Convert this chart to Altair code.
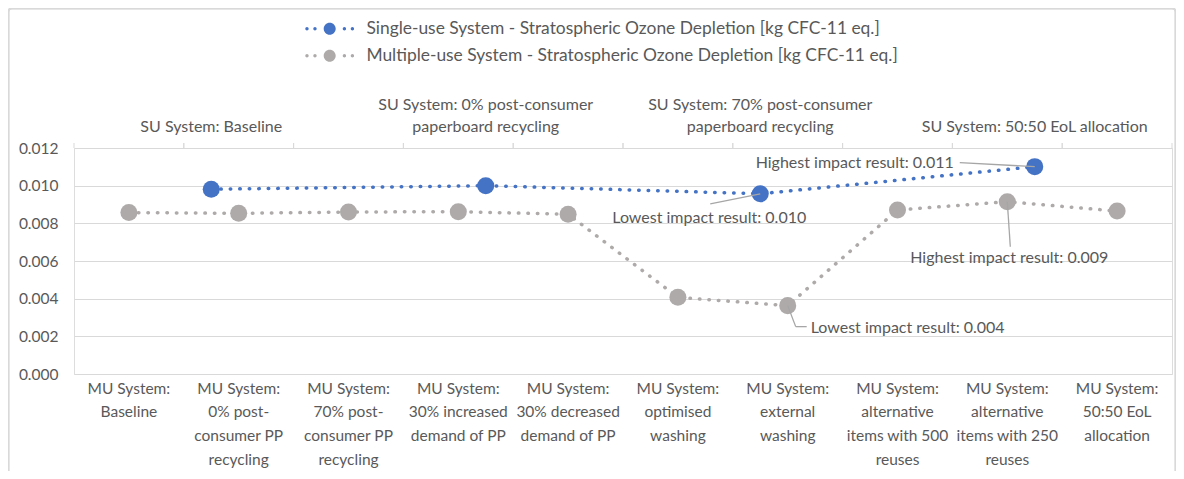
import altair as alt
import pandas as pd

# ---------------- data ----------------
su_series = "Single-use System - Stratospheric Ozone Depletion [kg CFC-11 eq.]"
mu_series = "Multiple-use System - Stratospheric Ozone Depletion [kg CFC-11 eq.]"

su_categories = [
    "SU System: Baseline",
    "SU System: 0% post-consumer\npaperboard recycling",
    "SU System: 70% post-consumer\npaperboard recycling",
    "SU System: 50:50 EoL allocation",
]
su_values = [0.00981, 0.01000, 0.00957, 0.01101]

mu_categories = [
    "MU System:\nBaseline",
    "MU System:\n0% post-\nconsumer PP\nrecycling",
    "MU System:\n70% post-\nconsumer PP\nrecycling",
    "MU System:\n30% increased\ndemand of PP",
    "MU System:\n30% decreased\ndemand of PP",
    "MU System:\noptimised\nwashing",
    "MU System:\nexternal\nwashing",
    "MU System:\nalternative\nitems with 500\nreuses",
    "MU System:\nalternative\nitems with 250\nreuses",
    "MU System:\n50:50 EoL\nallocation",
]
mu_values = [0.00857, 0.00853, 0.00860, 0.00862, 0.00848,
             0.00407, 0.00363, 0.00871, 0.00915, 0.00865]

y_ticks = [0.000, 0.002, 0.004, 0.006, 0.008, 0.010, 0.012]

# ---------------- styles ----------------
FONT = "Lato"
TXT = "#595959"
GRID = "#D9D9D9"
BLUE = "#4472C4"
GRAY = "#AEAAAA"
LEAD = "#A6A6A6"
W, H = 1098, 226

su_df = pd.DataFrame({"su_cat": su_categories, "value": su_values, "series": su_series})
mu_df = pd.DataFrame({"mu_cat": mu_categories, "value": mu_values, "series": mu_series})

su_hi = su_df.loc[[su_df["value"].idxmax()]].copy()
su_hi["note"] = su_hi["value"].map(lambda v: f"Highest impact result: {v:.3f}")
su_lo = su_df.loc[[su_df["value"].idxmin()]].copy()
su_lo["note"] = su_lo["value"].map(lambda v: f"Lowest impact result: {v:.3f}")
mu_hi = mu_df.loc[[mu_df["value"].idxmax()]].copy()
mu_hi["note"] = mu_hi["value"].map(lambda v: f"Highest impact result: {v:.3f}")
mu_lo = mu_df.loc[[mu_df["value"].idxmin()]].copy()
mu_lo["note"] = mu_lo["value"].map(lambda v: f"Lowest impact result: {v:.3f}")

# ---------------- scales / axes ----------------
y_scale = alt.Scale(domain=[0, 0.012], nice=False)
y_axis = alt.Axis(values=y_ticks, format=".3f", title=None, domain=False, ticks=False,
                  grid=True, gridColor=GRID, gridWidth=1, labelPadding=16,
                  labelFont=FONT, labelFontSize=15.5, labelColor=TXT)
Y = alt.Y("value:Q", scale=y_scale, axis=y_axis)
Y2 = alt.Y2("value")

su_scale = alt.Scale(type="band", domain=su_categories, paddingInner=0, paddingOuter=0)
su_axis = alt.Axis(orient="top", title=None, domain=False, ticks=False, labelAngle=0,
                   labelExpr=("length(split(datum.label, '\\n')) == 1 ? ['', datum.label]"
                              " : split(datum.label, '\\n')"),
                   labelLineHeight=22, labelBaseline="bottom", labelPadding=36,
                   labelOverlap=False, labelLimit=0, labelFont=FONT, labelFontSize=16,
                   labelColor=TXT)
mu_scale = alt.Scale(type="band", domain=mu_categories, paddingInner=0, paddingOuter=0)
mu_axis = alt.Axis(orient="bottom", title=None, domain=False, ticks=False, labelAngle=0,
                   labelExpr="split(datum.label, '\\n')", labelLineHeight=23.7,
                   labelBaseline="top", labelPadding=7, labelOverlap=False,
                   labelLimit=0, labelFont=FONT, labelFontSize=15.5, labelColor=TXT)

SX = alt.X("su_cat:N", scale=su_scale, axis=su_axis, sort=None, bandPosition=0.5)
SX2 = alt.X2("su_cat", bandPosition=0.5)
MX = alt.X("mu_cat:N", scale=mu_scale, axis=mu_axis, sort=None, bandPosition=0.5)
MX2 = alt.X2("mu_cat", bandPosition=0.5)

legend_path = (
    "M -6.1,0 A 0.42,0.42 0 1,0 -5.26,0 A 0.42,0.42 0 1,0 -6.1,0 Z "
    "M -4.1,0 A 0.42,0.42 0 1,0 -3.26,0 A 0.42,0.42 0 1,0 -4.1,0 Z "
    "M -1.5,0 A 1.5,1.5 0 1,0 1.5,0 A 1.5,1.5 0 1,0 -1.5,0 Z "
    "M 3.26,0 A 0.42,0.42 0 1,0 4.1,0 A 0.42,0.42 0 1,0 3.26,0 Z "
    "M 5.26,0 A 0.42,0.42 0 1,0 6.1,0 A 0.42,0.42 0 1,0 5.26,0 Z"
)
color = alt.Color(
    "series:N",
    scale=alt.Scale(domain=[su_series, mu_series], range=[BLUE, GRAY]),
    legend=alt.Legend(title=None, orient="none", legendX=247, legendY=-128,
                      direction="vertical", symbolType=legend_path, symbolSize=64,
                      symbolStrokeWidth=0, symbolOpacity=1, labelOffset=28,
                      rowPadding=8, labelLimit=0, labelFont=FONT,
                      labelFontSize=17.4, labelColor=TXT),
)

TXT_KW = dict(font=FONT, fontSize=16, color=TXT)

# ---------------- SU layers ----------------
su_line = alt.Chart(su_df).mark_line(
    color=BLUE, strokeWidth=3.5, strokeDash=[0.5, 9], strokeCap="round"
).encode(x=SX, y=Y)
su_pts = alt.Chart(su_df).mark_point(filled=True, size=290, opacity=1, strokeWidth=0).encode(
    x=SX, y=Y, color=color)
su_hi_txt = alt.Chart(su_hi).mark_text(align="right", baseline="middle", dx=-81, dy=-4, **TXT_KW).encode(
    x=SX, y=Y, text="note:N")
su_hi_rule = alt.Chart(su_hi).mark_rule(color=LEAD, strokeWidth=1.3, x2Offset=-75, y2Offset=-4).encode(
    x=SX, x2=SX2, y=Y, y2=Y2)
su_lo_txt = alt.Chart(su_lo).mark_text(align="center", baseline="middle", dx=-51, dy=24, **TXT_KW).encode(
    x=SX, y=Y, text="note:N")
su_lo_rule = alt.Chart(su_lo).mark_rule(color=LEAD, strokeWidth=1.3, x2Offset=-50, y2Offset=10).encode(
    x=SX, x2=SX2, y=Y, y2=Y2)
su_layer = alt.layer(su_line, su_pts, su_hi_rule, su_lo_rule, su_hi_txt, su_lo_txt)

# ---------------- MU layers ----------------
mu_tick_a = alt.Chart(mu_df).mark_rule(color=GRID, strokeWidth=1).encode(
    x=alt.X("mu_cat:N", scale=mu_scale, axis=mu_axis, sort=None, bandPosition=0),
    y=alt.value(0), y2=alt.value(-5))
mu_tick_b = alt.Chart(mu_df).mark_rule(color=GRID, strokeWidth=1).encode(
    x=alt.X("mu_cat:N", scale=mu_scale, axis=mu_axis, sort=None, bandPosition=1),
    y=alt.value(0), y2=alt.value(-5))
mu_line = alt.Chart(mu_df).mark_line(
    color=GRAY, strokeWidth=3.5, strokeDash=[0.5, 9], strokeCap="round"
).encode(x=MX, y=Y)
mu_pts = alt.Chart(mu_df).mark_point(filled=True, size=290, opacity=1, strokeWidth=0).encode(
    x=MX, y=Y, color=color)
mu_hi_txt = alt.Chart(mu_hi).mark_text(align="center", baseline="middle", dx=2, dy=56, **TXT_KW).encode(
    x=MX, y=Y, text="note:N")
mu_hi_rule = alt.Chart(mu_hi).mark_rule(color=LEAD, strokeWidth=1.3, x2Offset=3, y2Offset=45).encode(
    x=MX, x2=MX2, y=Y, y2=Y2)
mu_lo_txt = alt.Chart(mu_lo).mark_text(align="left", baseline="middle", dx=23, dy=22, **TXT_KW).encode(
    x=MX, y=Y, text="note:N")
mu_lo_rule1 = alt.Chart(mu_lo).mark_rule(color=LEAD, strokeWidth=1.3, x2Offset=8, y2Offset=21).encode(
    x=MX, x2=MX2, y=Y, y2=Y2)
mu_lo_rule2 = alt.Chart(mu_lo).mark_rule(color=LEAD, strokeWidth=1.3, xOffset=8, yOffset=21,
                                         x2Offset=19, y2Offset=21).encode(
    x=MX, x2=MX2, y=Y, y2=Y2)
mu_layer = alt.layer(mu_tick_a, mu_tick_b, mu_line, mu_pts, mu_hi_rule, mu_lo_rule1, mu_lo_rule2,
                     mu_hi_txt, mu_lo_txt)

# decorative chart-area border
border = alt.Chart(su_df).mark_rect(fill=None, stroke=GRID, strokeWidth=1.5, cornerRadius=3).encode(
    x=alt.value(-65.5), x2=alt.value(W + 3.5), y=alt.value(-139.5), y2=alt.value(H + 120))

chart = alt.layer(mu_layer, su_layer, border).resolve_scale(x="independent").properties(
    width=W, height=H,
    autosize=alt.AutoSizeParams(type="none"),
    padding={"left": 66, "top": 140, "right": 4, "bottom": 97},
).configure_view(stroke=None).configure(background="white")

chart.save("out.html", embed_options={"renderer": "svg", "actions": False})
